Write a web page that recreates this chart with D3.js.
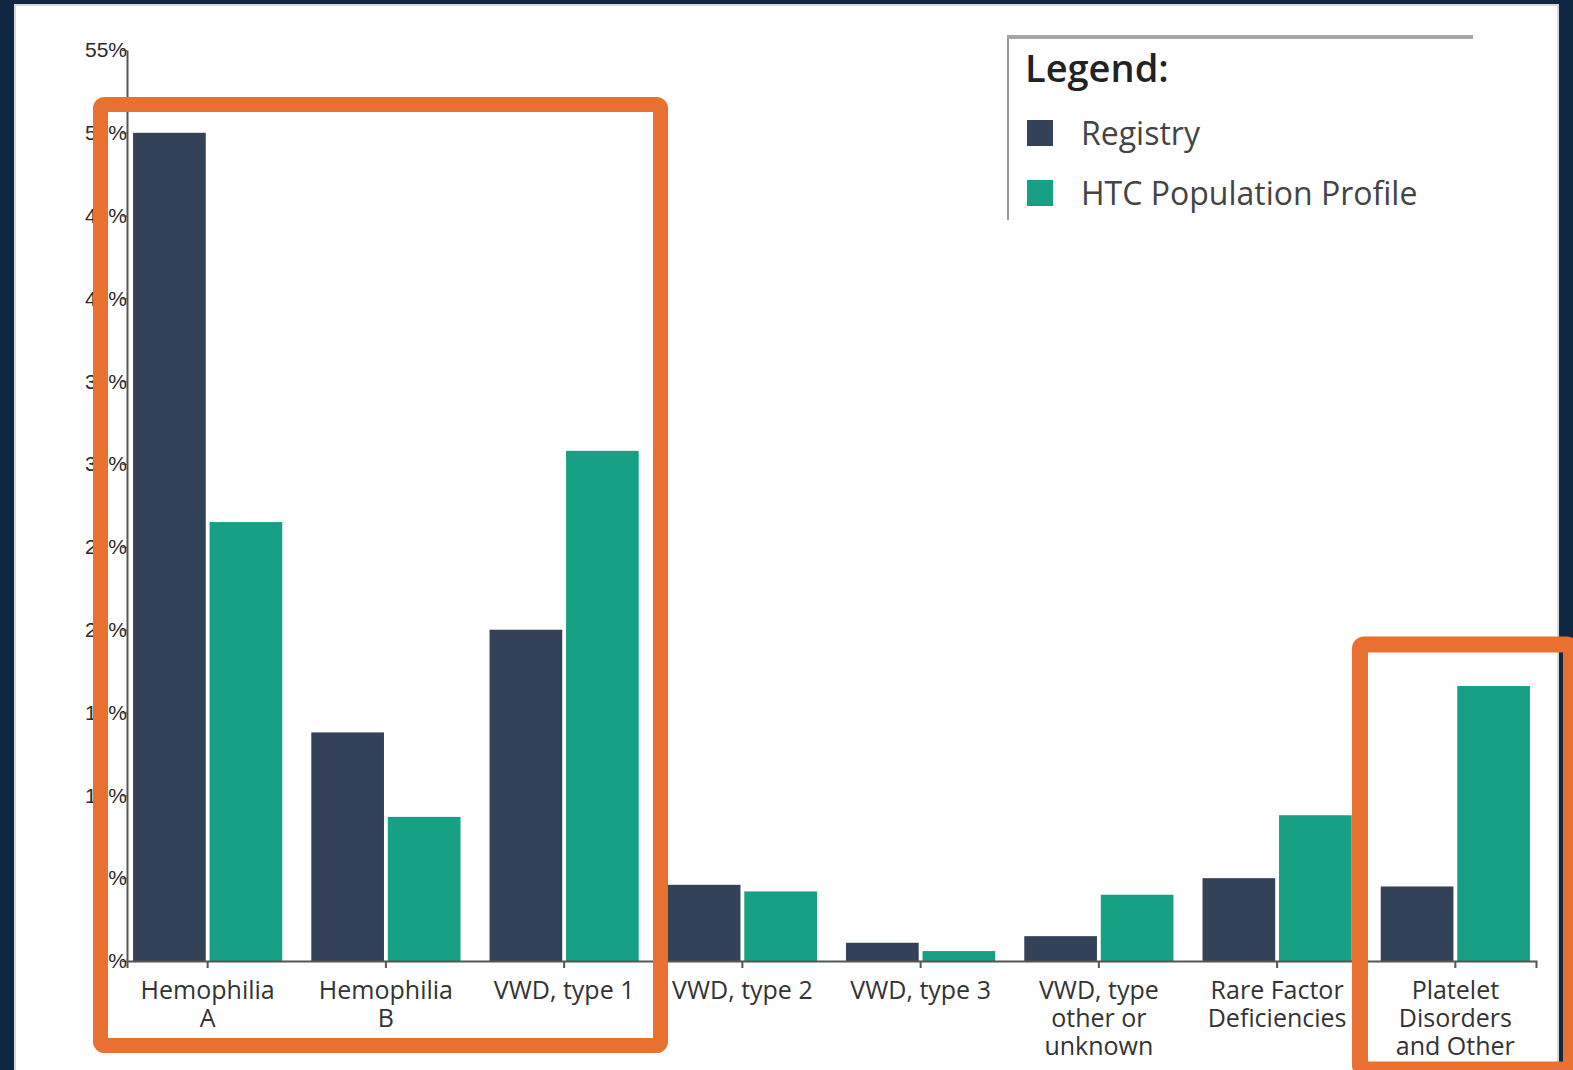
<!DOCTYPE html>
<meta charset="utf-8">
<script src="https://d3js.org/d3.v7.min.js"></script>
<style>
  body { margin: 0; background: #0f2741; }
</style>
<div class="canvas"></div>
<script>

    const width = 1573
    const height = 1070

    // data (percent of patients)
    const categories = ["Hemophilia A", "Hemophilia B", "VWD, type 1", "VWD, type 2", "VWD, type 3",
                        "VWD, type other or unknown", "Rare Factor Deficiencies", "Platelet Disorders and Other"]
    const series = ["Registry", "HTC Population Profile"]
    const registry = [50.0, 13.8, 20.0, 4.6, 1.1, 1.5, 5.0, 4.5]
    const htcProfile = [26.5, 8.7, 30.8, 4.2, 0.6, 4.0, 8.8, 16.6]
    const yTicks = [0, 5, 10, 15, 20, 25, 30, 35, 40, 45, 50, 55]
    const colors = ["#344259", "#18a085"]

    const rows = categories.map((c, i) => ({cat: c, values: [registry[i], htcProfile[i]]}))

    const svg = d3.select(".canvas")
                .append("svg")
                .attr("width", width)
                .attr("height", height)
                .style("display", "block")

    // white panel
    svg.append("rect")
        .attr("x", 15).attr("y", 5)
        .attr("width", 1543).attr("height", 1070)
        .attr("fill", "#fff")
        .attr("stroke", "#d8d8d8").attr("stroke-width", 2)

    const x0 = d3.scaleBand()
                .domain(categories)
                .range([127, 1536])
                .paddingInner(0.163)
                .paddingOuter(0.034)

    const x1 = d3.scaleBand()
                .domain(series)
                .range([0, x0.bandwidth()])
                .paddingInner(0.05)

    const y = d3.scaleLinear()
                .domain([0, 55])
                .range([961, 50])

    // bars
    const groups = svg.selectAll("g.group").data(rows)
        .enter().append("g")
        .attr("class", "group")
        .attr("transform", d => `translate(${x0(d.cat)},0)`)

    groups.selectAll("rect")
        .data(d => d.values.map((v, i) => ({key: series[i], v: v, i: i})))
        .enter().append("rect")
        .attr("x", d => x1(d.key))
        .attr("y", d => y(d.v))
        .attr("width", x1.bandwidth())
        .attr("height", d => y(0) - y(d.v))
        .attr("fill", d => colors[d.i])

    // axes
    const yAxis = d3.axisLeft(y)
                    .tickValues(yTicks)
                    .tickFormat(d => d + "%")
                    .tickSizeInner(5)
                    .tickSizeOuter(0)
                    .tickPadding(-5)

    const gY = svg.append("g")
        .attr("transform", "translate(127,0)")
        .call(yAxis)
    gY.select(".domain").attr("stroke", "#555").attr("stroke-width", 2)
    gY.selectAll(".tick line").attr("stroke", "#555")
    gY.selectAll("text")
        .style("font-family", "'Liberation Sans', Arial, sans-serif")
        .style("font-size", "21px")
        .attr("fill", "#2a2a2a")

    const xAxis = d3.axisBottom(x0)
                    .tickSizeInner(7)
                    .tickSizeOuter(7)
                    .tickPadding(13)

    const gX = svg.append("g")
        .attr("transform", "translate(0,961)")
        .call(xAxis)
    gX.select(".domain").attr("stroke", "#555").attr("stroke-width", 2)
    gX.selectAll(".tick line").attr("stroke", "#555").attr("stroke-width", 2)
    gX.selectAll("text")
        .style("font-family", "'Open Sans', sans-serif")
        .style("font-size", "25px")
        .attr("fill", "#333")
        .call(wrap, 148)

    function wrap(texts, w) {
        texts.each(function() {
            const text = d3.select(this)
            const words = text.text().split(/\s+/)
            const yy = text.attr("y")
            const dy = parseFloat(text.attr("dy"))
            let line = []
            let lineNo = 0
            let tspan = text.text(null).append("tspan").attr("x", 0).attr("y", yy).attr("dy", dy + "em")
            words.forEach(word => {
                line.push(word)
                tspan.text(line.join(" "))
                if (tspan.node().getComputedTextLength() > w && line.length > 1) {
                    line.pop()
                    tspan.text(line.join(" "))
                    line = [word]
                    tspan = text.append("tspan").attr("x", 0).attr("y", yy)
                        .attr("dy", (++lineNo * 1.12 + dy) + "em").text(word)
                }
            })
        })
    }

    // legend
    const legend = svg.append("g")
    legend.append("line")
        .attr("x1", 1008).attr("x2", 1008).attr("y1", 36).attr("y2", 220)
        .attr("stroke", "#999").attr("stroke-width", 2)
    legend.append("line")
        .attr("x1", 1007).attr("x2", 1473).attr("y1", 37).attr("y2", 37)
        .attr("stroke", "#a5a5a5").attr("stroke-width", 4)
    legend.append("text")
        .attr("x", 1025).attr("y", 82)
        .style("font-family", "'Open Sans', sans-serif")
        .style("font-size", "38px")
        .style("font-weight", 600)
        .attr("fill", "#222")
        .text("Legend:")
    series.forEach((s, i) => {
        legend.append("rect")
            .attr("x", 1027).attr("y", 120 + i * 60)
            .attr("width", 26).attr("height", 26)
            .attr("fill", colors[i])
        legend.append("text")
            .attr("x", 1081).attr("y", 145 + i * 60)
            .style("font-family", "'Open Sans', sans-serif")
            .style("font-size", "32px")
            .attr("fill", "#444")
            .text(s)
    })

    // orange highlight boxes
    svg.append("rect")
        .attr("x", 100.5).attr("y", 104.5)
        .attr("width", 560).attr("height", 941)
        .attr("rx", 4)
        .attr("fill", "none")
        .attr("stroke", "#e87131").attr("stroke-width", 15)
    svg.append("rect")
        .attr("x", 1360).attr("y", 644.5)
        .attr("width", 211).attr("height", 425)
        .attr("rx", 4)
        .attr("fill", "none")
        .attr("stroke", "#e87131").attr("stroke-width", 16)

</script>
